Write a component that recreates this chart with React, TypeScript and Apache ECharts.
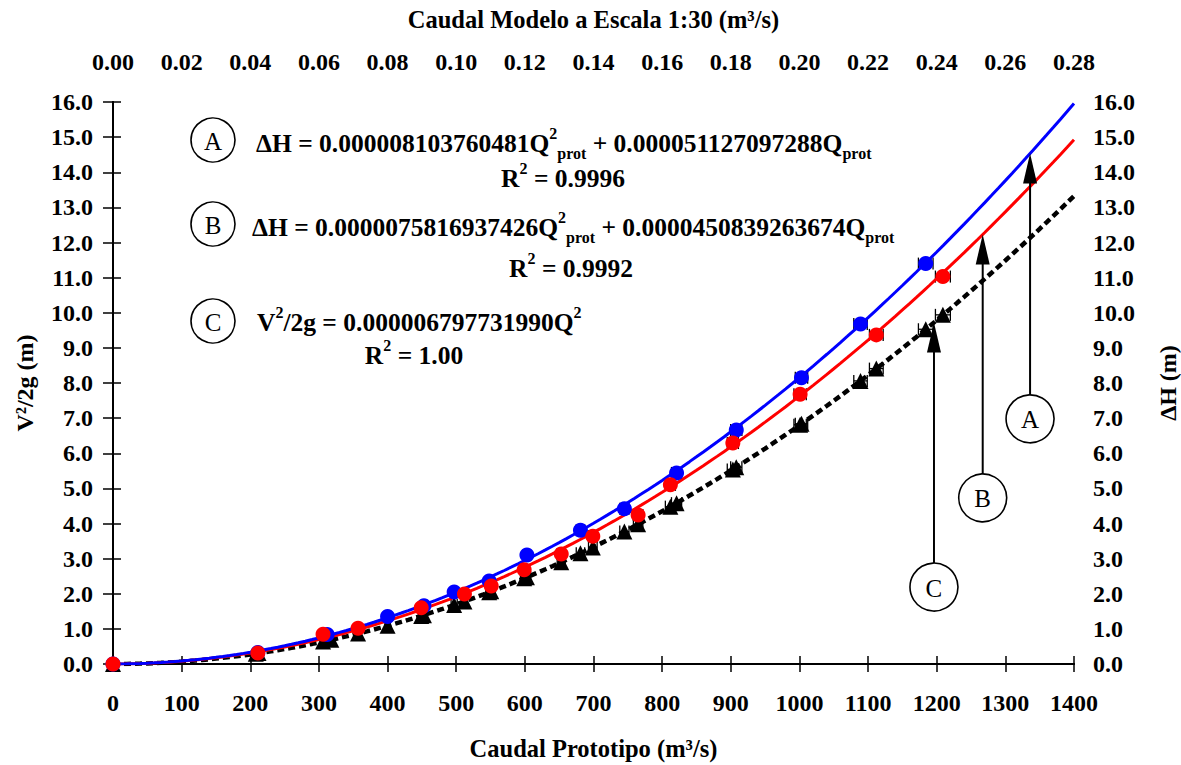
import React, { useEffect, useRef } from "react";
import * as echarts from "echarts";

// ---------- data ----------
const X_TICKS_PROT = { min: 0, max: 1400, step: 100 };
const X_TICKS_MODEL = { min: 0, max: 0.28, step: 0.02 };
const Y_TICKS = { min: 0, max: 16, step: 1 };

// A: ΔH measured (blue circles)
const QA = [0, 211, 312, 400, 453, 497, 548, 603, 681, 745, 821, 908, 1003, 1089, 1184];
const VA = [0, 0.33, 0.84, 1.35, 1.66, 2.05, 2.36, 3.1, 3.81, 4.42, 5.44, 6.66, 8.15, 9.68, 11.4];
// B: ΔH measured (red circles)
const QB = [0, 211, 306, 357, 449, 512, 551, 599, 653, 699, 765, 812, 903, 1001, 1112, 1209];
const VB = [0, 0.31, 0.85, 1.02, 1.6, 1.99, 2.22, 2.68, 3.13, 3.64, 4.24, 5.1, 6.29, 7.68, 9.37, 11.03];
// C: V²/2g (black triangles)
const QC = [0, 208, 212, 306, 318, 357, 400, 449, 453, 497, 512, 548, 551, 599, 603, 653, 681, 699, 745, 765, 812, 821, 903, 908, 1001, 1003, 1089, 1112, 1184, 1209];
const VC = [0, 0.29, 0.31, 0.64, 0.69, 0.87, 1.09, 1.37, 1.39, 1.68, 1.78, 2.04, 2.07, 2.44, 2.47, 2.9, 3.15, 3.32, 3.77, 3.98, 4.48, 4.58, 5.54, 5.6, 6.81, 6.84, 8.06, 8.41, 9.53, 9.94];

// fitted-curve coefficients printed in the chart
const A2 = 0.000008103760481, A1 = 0.000051127097288;
const B2 = 0.0000075816937426, B1 = 0.0000450839263674;
const C2 = 0.00000679773199;
const ERR_FRAC = 0.009; // horizontal error bar half-width, fraction of Q

// annotation arrows (Q position, circle label level)
const ARROW_Q = [1336, 1267, 1196];
const LABEL_V = [6.98, 4.73, 2.19];
const LABELS = ["A", "B", "C"];

const SERIF = "'Liberation Serif', 'Times New Roman', serif";

const fitQ: number[] = [];
for (let q = X_TICKS_PROT.min; q <= X_TICKS_PROT.max; q += 10) fitQ.push(q);
const fA = (q: number) => A2 * q * q + A1 * q;
const fB = (q: number) => B2 * q * q + B1 * q;
const fC = (q: number) => C2 * q * q;

const zip = (q: number[], v: number[]) => q.map((x, i) => [x, v[i]]);

const errBarSeries = (data: number[][], color: string, z: number) => ({
  type: "custom",
  xAxisIndex: 0,
  yAxisIndex: 0,
  z,
  silent: true,
  encode: { x: 0, y: 1 },
  data,
  renderItem: (_p: any, api: any) => {
    const q = api.value(0), v = api.value(1);
    const e = q * ERR_FRAC;
    const p1 = api.coord([q - e, v]);
    const p2 = api.coord([q + e, v]);
    const h = 6;
    const st = { stroke: color, lineWidth: 1.3 };
    return {
      type: "group",
      children: [
        { type: "line", shape: { x1: p1[0], y1: p1[1], x2: p2[0], y2: p2[1] }, style: st },
        { type: "line", shape: { x1: p1[0], y1: p1[1] - h, x2: p1[0], y2: p1[1] + h }, style: st },
        { type: "line", shape: { x1: p2[0], y1: p2[1] - h, x2: p2[0], y2: p2[1] + h }, style: st },
      ],
    };
  },
});

const labelFont = { fontFamily: SERIF, fontWeight: "bold" as const, fontSize: 24, color: "#000" };
const axisLine = { show: true, lineStyle: { color: "#000", width: 2 } };

export default function App() {
  const ref = useRef<HTMLDivElement>(null);
  useEffect(() => {
    if (!ref.current) return;
    const chart = echarts.init(ref.current, null, { renderer: "svg" });
    const option: any = {
      animation: false,
      backgroundColor: "#fff",
      grid: { left: 113, right: 107, top: 102, bottom: 101, containLabel: false, outerBoundsMode: "none" },
      xAxis: [
        {
          type: "value",
          position: "bottom",
          min: X_TICKS_PROT.min,
          max: X_TICKS_PROT.max,
          interval: X_TICKS_PROT.step,
          name: "Caudal Prototipo (m³/s)",
          nameLocation: "middle",
          nameGap: 72,
          nameTextStyle: { ...labelFont, fontSize: 24.5 },
          axisLine,
          axisTick: { show: true, inside: false, length: 8, lineStyle: { color: "#000", width: 1.5 } },
          axisLabel: { ...labelFont, margin: 27, formatter: (v: number) => v.toFixed(0) },
          splitLine: { show: false },
        },
        {
          type: "value",
          position: "top",
          min: X_TICKS_MODEL.min,
          max: X_TICKS_MODEL.max,
          interval: X_TICKS_MODEL.step,
          name: "Caudal Modelo a Escala 1:30 (m³/s)",
          nameLocation: "middle",
          nameGap: 70,
          nameTextStyle: { ...labelFont, fontSize: 24.5 },
          axisLine,
          axisTick: { show: true, inside: false, length: 8, lineStyle: { color: "#000", width: 1.5 } },
          axisLabel: { ...labelFont, margin: 28, formatter: (v: number) => v.toFixed(2) },
          splitLine: { show: false },
        },
      ],
      yAxis: [
        {
          type: "value",
          position: "left",
          min: Y_TICKS.min,
          max: Y_TICKS.max,
          interval: Y_TICKS.step,
          name: "V²/2g (m)",
          nameLocation: "middle",
          nameRotate: 90,
          nameGap: 76,
          nameTextStyle: { ...labelFont },
          axisLine,
          axisTick: { show: true, inside: false, length: 10, lineStyle: { color: "#000", width: 1.5 } },
          axisLabel: { ...labelFont, margin: 20, formatter: (v: number) => v.toFixed(1) },
          splitLine: { show: false },
        },
        {
          type: "value",
          position: "right",
          min: Y_TICKS.min,
          max: Y_TICKS.max,
          interval: Y_TICKS.step,
          name: "ΔH (m)",
          nameLocation: "middle",
          nameRotate: 90,
          nameGap: 82,
          nameTextStyle: { ...labelFont },
          axisLine,
          axisTick: { show: true, inside: false, length: 8, lineStyle: { color: "#000", width: 1.5 } },
          axisLabel: { ...labelFont, margin: 19, formatter: (v: number) => v.toFixed(1) },
          splitLine: { show: false },
        },
      ],
      series: [
        errBarSeries(zip(QC, VC), "#000", 2),
        errBarSeries(zip(QB, VB), "#000", 2),
        errBarSeries(zip(QA, VA), "#000", 2),
        {
          type: "line",
          name: "C fit",
          data: fitQ.map((q) => [q, fC(q)]),
          showSymbol: false,
          silent: true,
          z: 3,
          lineStyle: { color: "#000", width: 4.5, type: [7, 4] },
        },
        {
          type: "scatter",
          name: "C",
          data: zip(QC, VC),
          symbol: "triangle",
          symbolSize: 16,
          z: 4,
          itemStyle: { color: "#000", opacity: 1 },
        },
        {
          type: "line",
          name: "B fit",
          data: fitQ.map((q) => [q, fB(q)]),
          showSymbol: false,
          silent: true,
          z: 3,
          lineStyle: { color: "#ff0000", width: 3 },
        },
        {
          type: "line",
          name: "A fit",
          data: fitQ.map((q) => [q, fA(q)]),
          showSymbol: false,
          silent: true,
          z: 3,
          lineStyle: { color: "#0000ff", width: 3 },
        },
        {
          type: "scatter",
          name: "A",
          data: zip(QA, VA),
          symbol: "circle",
          symbolSize: 15,
          z: 5,
          itemStyle: { color: "#0000ff", opacity: 1 },
        },
        {
          type: "scatter",
          name: "B",
          data: zip(QB, VB),
          symbol: "circle",
          symbolSize: 15,
          z: 5,
          itemStyle: { color: "#ff0000", opacity: 1 },
        },
      ],
    };
    chart.setOption(option);

    // ---- annotations ----
    const rich = {
      b: { fontFamily: SERIF, fontWeight: "bold", fontSize: 25.5, lineHeight: 36, fill: "#000" },
      sup: { fontFamily: SERIF, fontWeight: "bold", fontSize: 16, verticalAlign: "top", fill: "#000" },
      sub: { fontFamily: SERIF, fontWeight: "bold", fontSize: 16, verticalAlign: "bottom", fill: "#000" },
    };
    const richText = (text: string, x: number, y: number, align: string) => ({
      type: "text",
      z: 50,
      style: { text, x, y, rich, align, verticalAlign: "middle", fill: "#000" },
    });
    const circleLabel = (cx: number, cy: number, letter: string) => [
      { type: "circle", z: 50, shape: { cx, cy, r: 22 }, style: { fill: "#fff", stroke: "#000", lineWidth: 1.6 } },
      {
        type: "text",
        z: 51,
        style: {
          text: letter, x: cx, y: cy + 1, align: "center", verticalAlign: "middle",
          fontFamily: SERIF, fontSize: 25, fill: "#000",
        },
      },
    ];

    const graphics: any[] = [];
    graphics.push(...circleLabel(213, 140, "A"));
    graphics.push(richText("{b|ΔH = 0.000008103760481Q}{sup|2}{sub|prot}{b| + 0.000051127097288Q}{sub|prot}", 256, 143, "left"));
    graphics.push(richText("{b|R}{sup|2}{b| = 0.9996}", 563, 178, "center"));
    graphics.push(...circleLabel(213, 224, "B"));
    graphics.push(richText("{b|ΔH = 0.0000075816937426Q}{sup|2}{sub|prot}{b| + 0.0000450839263674Q}{sub|prot}", 252, 227, "left"));
    graphics.push(richText("{b|R}{sup|2}{b| = 0.9992}", 571, 268, "center"));
    graphics.push(...circleLabel(213, 321, "C"));
    graphics.push(richText("{b|V}{sup|2}{b|/2g = 0.000006797731990Q}{sup|2}", 257, 322, "left"));
    graphics.push(richText("{b|R}{sup|2}{b| = 1.00}", 414, 355, "center"));

    const fits = [fA, fB, fC];
    ARROW_Q.forEach((q, i) => {
      const tip = chart.convertToPixel({ xAxisIndex: 0, yAxisIndex: 0 }, [q, fits[i](q)]) as number[];
      const c = chart.convertToPixel({ xAxisIndex: 0, yAxisIndex: 0 }, [q, LABEL_V[i]]) as number[];
      const x = tip[0];
      const r = 24;
      const headLen = 30, headHalf = 7;
      graphics.push({
        type: "line", z: 40,
        shape: { x1: x, y1: c[1] - r, x2: x, y2: tip[1] + headLen - 2 },
        style: { stroke: "#000", lineWidth: 2 },
      });
      graphics.push({
        type: "polygon", z: 40,
        shape: { points: [[x, tip[1]], [x - headHalf, tip[1] + headLen], [x + headHalf, tip[1] + headLen]] },
        style: { fill: "#000" },
      });
      graphics.push({ type: "circle", z: 41, shape: { cx: x, cy: c[1], r }, style: { fill: "#fff", stroke: "#000", lineWidth: 1.6 } });
      graphics.push({
        type: "text", z: 42,
        style: {
          text: LABELS[i], x, y: c[1] + 1, align: "center", verticalAlign: "middle",
          fontFamily: SERIF, fontSize: 25, fill: "#000",
        },
      });
    });
    chart.setOption({ graphic: graphics });

    return () => chart.dispose();
  }, []);
  return (
    <div
      ref={ref}
      style={{ position: "fixed", left: 0, top: 0, width: 1181, height: 765, background: "#fff" }}
    />
  );
}
